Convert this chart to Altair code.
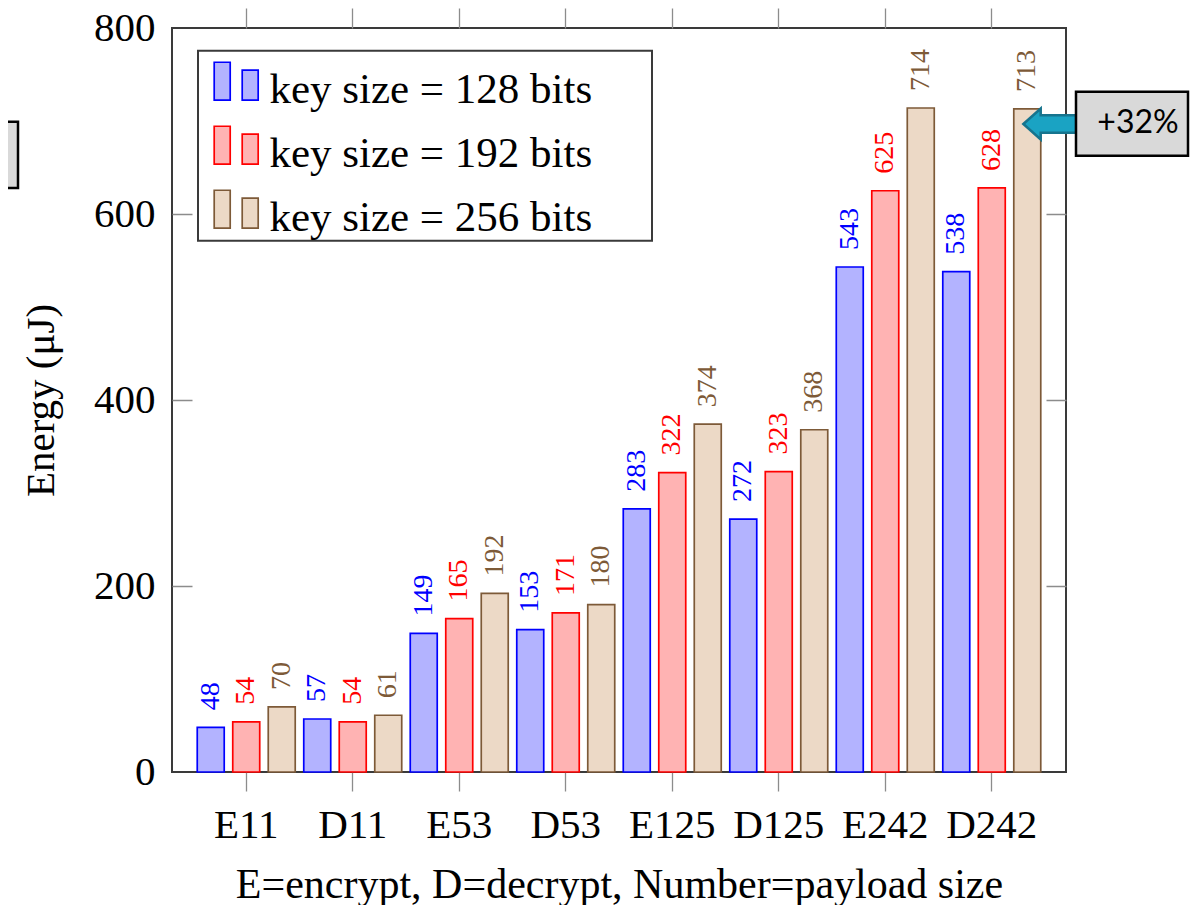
import altair as alt
import pandas as pd

operations = ["E11", "D11", "E53", "D53", "E125", "D125", "E242", "D242"]
key_labels = ["key size = 128 bits", "key size = 192 bits", "key size = 256 bits"]
energy_128 = [48, 57, 149, 153, 283, 272, 543, 538]
energy_192 = [54, 54, 165, 171, 322, 323, 625, 628]
energy_256 = [70, 61, 192, 180, 374, 368, 714, 713]
y_ticks = [0, 200, 400, 600, 800]
callout_text = ["+32%"]

fill_colors = ["#b3b3ff", "#ffb3b3", "#ecd9c6"]
draw_colors = ["#0000ff", "#ff0000", "#7d5a38"]

rows = []
for key, series in zip(key_labels, [energy_128, energy_192, energy_256]):
    for op, v in zip(operations, series):
        rows.append({"operation": op, "key": key, "energy": v})
df = pd.DataFrame(rows)

W, H = 894, 744
SERIF = "Liberation Serif"

x_scale = alt.Scale(domain=operations, paddingInner=0, paddingOuter=0.197)
xoff = alt.XOffset("key:N", sort=key_labels,
                   scale=alt.Scale(domain=key_labels, paddingInner=0.24, paddingOuter=0.12))

y_axis = alt.Axis(
    values=y_ticks, grid=True, gridDash=[20, 854, 20], gridColor="#8c8c8c", gridWidth=1.3,
    gridOpacity={"condition": {"test": "datum.value == 0 || datum.value == 800", "value": 0}, "value": 1},
    ticks=False, tickSize=0, labelPadding=17, domain=False,
    title="Energy (μJ)", titleX=-119, titleY=372, titleBaseline="alphabetic", titleAngle=270,
)
y_enc = alt.Y("energy:Q", scale=alt.Scale(domain=[0, 800], nice=False), axis=y_axis)

legend_symbol = "M-1,-1.2H-0.313V0.43H-1Z M0.202,-0.858H0.888V0.43H0.202Z"
leg = alt.Legend(title=None, orient="none", legendX=26, legendY=22.7, labelLimit=900)

ann_df = pd.DataFrame({"label": callout_text})

legend_frame = alt.Chart(ann_df).mark_rect(fill="white", stroke="#3a3a3a", strokeWidth=2).encode(
    x=alt.value(26), x2=alt.value(480), y=alt.value(22.7), y2=alt.value(212.7))

bars = alt.Chart(df).mark_bar(strokeWidth=1.7).encode(
    x=alt.X("operation:N", sort=operations, scale=x_scale,
            axis=alt.Axis(orient="bottom", title="E=encrypt, D=decrypt, Number=payload size",
                          labelAngle=0, ticks=True, tickSize=19, labelPadding=46,
                          labelBaseline="alphabetic", titleBaseline="alphabetic", titleY=125,
                          titleFontSize=42, domain=False)),
    xOffset=xoff,
    y=y_enc,
    fill=alt.Fill("key:N", scale=alt.Scale(domain=key_labels, range=fill_colors), legend=leg),
    stroke=alt.Stroke("key:N", scale=alt.Scale(domain=key_labels, range=draw_colors), legend=leg),
)

labels = alt.Chart(df).mark_text(angle=270, align="left", baseline="middle", dx=17,
                                 font=SERIF, fontSize=28).encode(
    x=alt.X("operation:N", sort=operations, scale=x_scale,
            axis=alt.Axis(orient="top", labels=False, ticks=True, tickSize=20, domain=False, title=None)),
    xOffset=xoff,
    y=y_enc,
    text=alt.Text("energy:Q"),
    color=alt.Color("key:N", scale=alt.Scale(domain=key_labels, range=draw_colors), legend=None),
)

arrow_path = "M-1,0L-0.342,-0.588L-0.342,-0.334L1,-0.334L1,0.334L-0.342,0.334L-0.342,0.588Z"
arrow = alt.Chart(ann_df).mark_point(shape=arrow_path, filled=True, fill="#1aa3c3", stroke="#16748e",
                                     strokeWidth=2.5, opacity=1, size=2777).encode(
    x=alt.value(877.7), y=alt.value(96))
callout_box = alt.Chart(ann_df).mark_rect(fill="#d9d9d9", stroke="black", strokeWidth=2.5).encode(
    x=alt.value(904), x2=alt.value(1016), y=alt.value(63.7), y2=alt.value(127.7))
callout_label = alt.Chart(ann_df).mark_text(font="Lato", fontSize=32, baseline="alphabetic",
                                            align="center", color="black").encode(
    x=alt.value(966), y=alt.value(105), text="label:N")
side_box = alt.Chart(ann_df).mark_rect(fill="#d9d9d9", stroke="black", strokeWidth=2.5).encode(
    x=alt.value(-190), x2=alt.value(-154), y=alt.value(93.7), y2=alt.value(160))

chart = alt.layer(legend_frame, bars, labels, arrow, callout_box, callout_label, side_box).resolve_axis(
    x="independent"
).properties(
    width=W, height=H,
    autosize=alt.AutoSizeParams(type="none"),
    padding={"left": 164, "top": 20, "right": 125, "bottom": 133},
).configure_view(
    stroke="#3a3a3a", strokeWidth=2
).configure_axis(
    labelFont=SERIF, labelFontSize=41, labelColor="black",
    titleFont=SERIF, titleFontSize=41, titleFontWeight="normal", titleColor="black",
    tickColor="#8c8c8c", tickWidth=1.3,
).configure_legend(
    labelFont=SERIF, labelFontSize=43, labelColor="black",
    padding=15, rowPadding=10, symbolSize=2172, symbolType=legend_symbol,
    symbolStrokeWidth=1.7, labelOffset=7.4,
    strokeColor="transparent",
)

chart.save("out.html", embed_options={"renderer": "svg", "actions": False})
